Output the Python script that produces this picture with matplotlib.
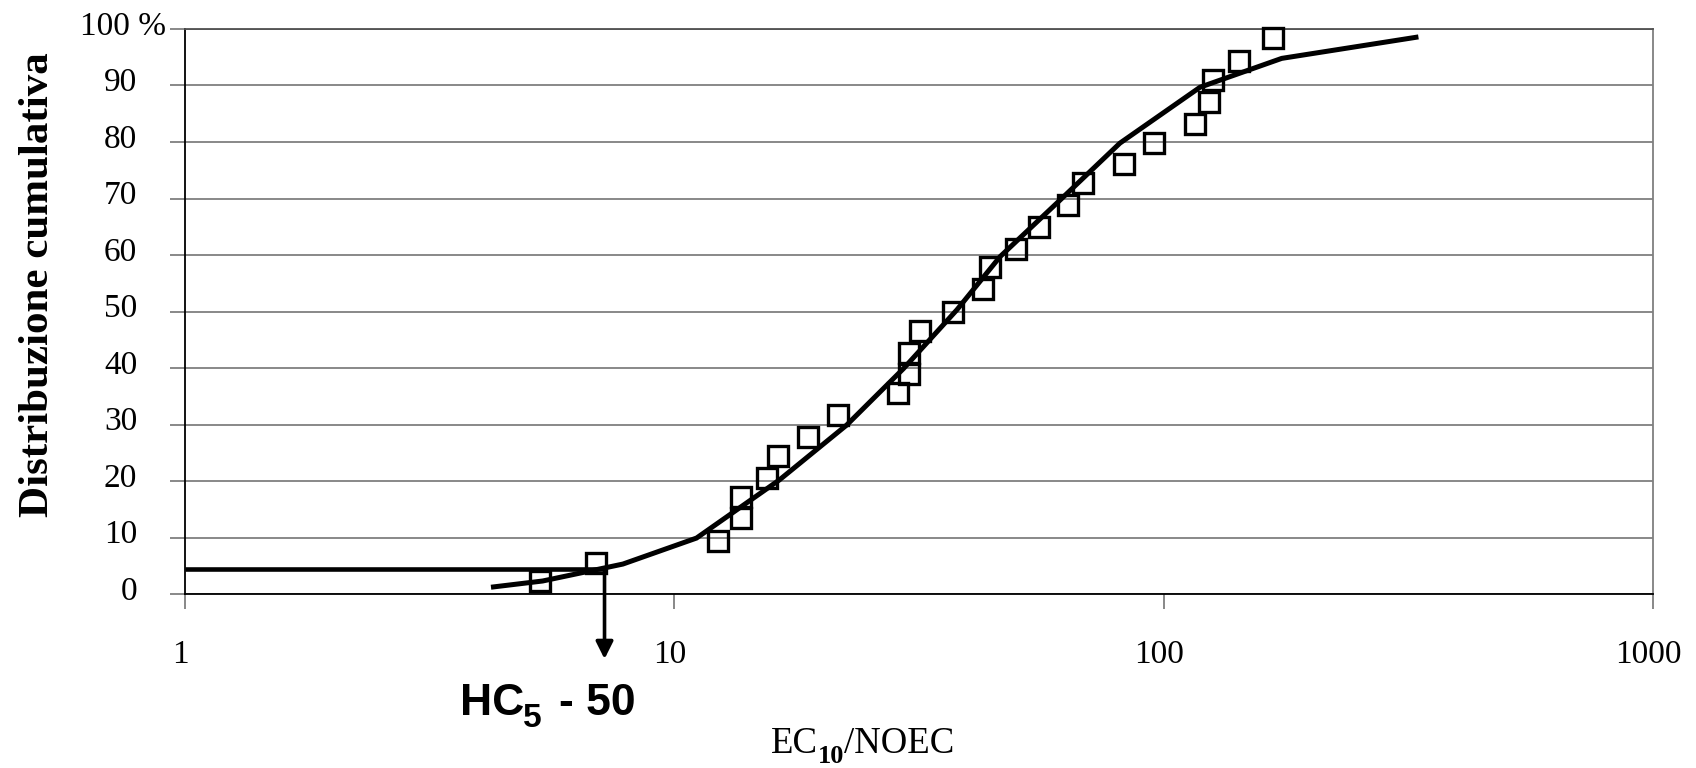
import matplotlib
matplotlib.use("Agg")
import matplotlib.pyplot as plt
from matplotlib.ticker import FixedLocator, NullLocator
from matplotlib.transforms import ScaledTranslation

# ---- data ----
ec_values = [5.32, 6.92, 12.3, 13.7, 13.7, 15.5, 16.3, 18.8, 21.6, 28.6, 30.1, 30.1,
             31.7, 37.1, 42.7, 44.2, 49.9, 55.6, 63.8, 68.3, 83.0, 95.5, 115.8, 124.0,
             126.4, 142.6, 167.0]
cum_pct = [2.3, 5.5, 9.4, 13.4, 17.2, 20.6, 24.5, 27.7, 31.6, 35.5, 38.9, 42.7,
           46.6, 49.9, 53.9, 57.8, 61.0, 65.0, 68.9, 72.8, 76.1, 79.9, 83.2, 87.1,
           91.0, 94.4, 98.4]

fit_x = [4.22, 5.38, 7.85, 11.1, 16.4, 22.5, 29.4, 37.8, 46.3, 61.9, 81.4, 118.7, 174.3, 331.6]
fit_y = [1.2, 2.3, 5.3, 9.9, 20.2, 29.9, 39.9, 50.3, 59.7, 70.0, 79.8, 89.7, 94.8, 98.6]

hc5_x = 7.2
hc5_level = 4.5
arrow_end = -11.5

x_ticks = [1, 10, 100, 1000]
x_ticklabels = ["1", "10", "100", "1000"]
y_ticks = [0, 10, 20, 30, 40, 50, 60, 70, 80, 90, 100]
y_ticklabels = ["0", "10", "20", "30", "40", "50", "60", "70", "80", "90", "100 %"]

SERIF = "Liberation Serif"
SANS = "Liberation Sans"
GRAY = "#7f7f7f"

W, H = 1696, 768
fig = plt.figure(figsize=(W / 100, H / 100), dpi=100)
ax = fig.add_axes([185 / W, 1 - 594 / H, (1653 - 185) / W, (594 - 29) / H])

ax.set_xscale("log")
ax.set_xlim(1, 1000)
ax.set_ylim(0, 100)
ax.xaxis.set_major_locator(FixedLocator(x_ticks))
ax.xaxis.set_minor_locator(NullLocator())
ax.set_xticklabels(x_ticklabels)
ax.set_yticks(y_ticks)
ax.set_yticklabels(y_ticklabels)

ax.grid(axis="y", color=GRAY, lw=1.3)
ax.grid(axis="x", visible=False)
ax.set_axisbelow(True)

ax.spines["left"].set_color("black")
ax.spines["left"].set_linewidth(1.3)
ax.spines["bottom"].set_color("black")
ax.spines["bottom"].set_linewidth(1.3)
ax.spines["right"].set_color(GRAY)
ax.spines["right"].set_linewidth(1.3)
ax.spines["top"].set_color("#505050")
ax.spines["top"].set_linewidth(1.3)

ax.tick_params(axis="y", direction="out", length=10.8, width=1.3, color=GRAY,
               pad=23.5, labelsize=24)
ax.tick_params(axis="x", direction="out", length=10.8, width=1.3, color=GRAY,
               pad=22, labelsize=24)
for lbl in ax.get_xticklabels() + ax.get_yticklabels():
    lbl.set_fontfamily(SERIF)

ylabels = ax.get_yticklabels()
for i, lbl in enumerate(ylabels):
    dx = 0.29 if i == len(ylabels) - 1 else 0.0
    lbl.set_transform(lbl.get_transform() + ScaledTranslation(dx, 0.06, fig.dpi_scale_trans))
xlabels = ax.get_xticklabels()
for lbl in xlabels:
    lbl.set_transform(lbl.get_transform() + ScaledTranslation(-0.05, 0, fig.dpi_scale_trans))

# data squares
ax.plot(ec_values, cum_pct, ls="none", marker="s", ms=14, mfc="none",
        mec="black", mew=2.4, zorder=3, clip_on=False)
# fitted curve
ax.plot(fit_x, fit_y, color="black", lw=3.6, solid_capstyle="butt",
        solid_joinstyle="miter", zorder=4, clip_on=False)

# HC5 line + arrow
ax.plot([1, hc5_x], [hc5_level, hc5_level], color="black", lw=3.3,
        solid_capstyle="butt", zorder=5, clip_on=False)
ax.annotate("", xy=(hc5_x, arrow_end), xytext=(hc5_x, hc5_level),
            arrowprops=dict(arrowstyle="-|>", color="black", lw=2.6,
                            mutation_scale=26, shrinkA=0, shrinkB=0),
            annotation_clip=False, zorder=5)

# HC5 label
fig.text(460 / W, 1 - 715 / H, "HC", fontsize=32, fontweight="bold", family=SANS,
         ha="left", va="baseline")
fig.text(523 / W, 1 - 727 / H, "5", fontsize=24, fontweight="bold", family=SANS,
         ha="left", va="baseline")
fig.text(559 / W, 1 - 715 / H, "- 50", fontsize=32, fontweight="bold", family=SANS,
         ha="left", va="baseline")

# x label: EC10/NOEC
t1 = fig.text(771 / W, 1 - 753 / H, "EC", fontsize=26.5, family=SERIF,
              ha="left", va="baseline")
t2 = ax.annotate("10", xy=(1, 0), xycoords=t1, xytext=(0, -5),
                 textcoords="offset points", fontsize=19, fontweight="bold",
                 family=SERIF, ha="left", va="bottom", annotation_clip=False)
t3 = ax.annotate("/NOEC", xy=(1, 0), xycoords=(t2, t1), xytext=(0, 0),
                 textcoords="offset points", fontsize=26.5, family=SERIF,
                 ha="left", va="bottom", annotation_clip=False)

# y label
fig.text(38 / W, 1 - 285 / H, "Distribuzione cumulativa", rotation=90,
         ha="center", va="center", fontsize=31, fontweight="bold", family=SERIF)

fig.savefig("out.png", dpi=100)
